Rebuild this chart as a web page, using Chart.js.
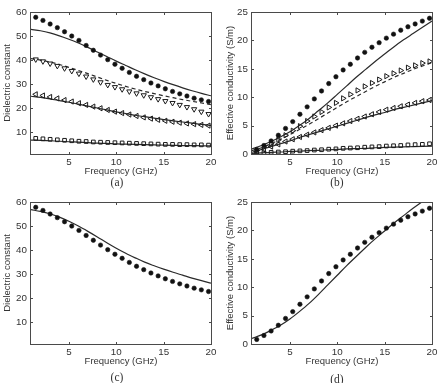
<!DOCTYPE html>
<html><head><meta charset="utf-8">
<script src="https://cdn.jsdelivr.net/npm/chart.js@4/dist/chart.umd.min.js"></script>
<style>
html,body{margin:0;padding:0;background:#fff;}
#wrap{position:relative;width:442px;height:383px;overflow:hidden;background:#fff;}
canvas{position:absolute;}
.cap{position:absolute;font-family:"Liberation Serif","DejaVu Serif",serif;font-size:11.5px;color:#333;transform:translate(-50%,-50%);white-space:nowrap;line-height:1;}
</style></head><body>
<div id="wrap">
<canvas id="ca" width="221" height="190" style="left:0;top:0"></canvas>
<canvas id="cb" width="221" height="190" style="left:221px;top:0"></canvas>
<canvas id="cc" width="221" height="193" style="left:0;top:190px"></canvas>
<canvas id="cd" width="221" height="193" style="left:221px;top:190px"></canvas>
<div class="cap" style="left:117px;top:183px">(a)</div>
<div class="cap" style="left:337px;top:183px">(b)</div>
<div class="cap" style="left:117px;top:378px">(c)</div>
<div class="cap" style="left:337px;top:380px">(d)</div>
</div>
<script>
// ---- data ----
const freq = [1.5, 2.26, 3.02, 3.78, 4.54, 5.3, 6.06, 6.82, 7.58, 8.34, 9.1, 9.86, 10.62, 11.38, 12.14, 12.9, 13.66, 14.42, 15.18, 15.94, 16.7, 17.46, 18.22, 18.98, 19.74];
const modelFreq = [1,2,3,4,5,6,7,8,9,10,11,12,13,14,15,16,17,18,19,20];

const xTicks = [5, 10, 15, 20];
const epsTicks = [10, 20, 30, 40, 50, 60];
const sigTicks = [0, 5, 10, 15, 20, 25];

// (a) dielectric constant, measured
const epsMeas1 = [57.8, 56.5, 55.0, 53.5, 51.8, 50.0, 48.2, 46.1, 44.1, 42.1, 40.2, 38.3, 36.6, 34.9, 33.3, 31.9, 30.5, 29.3, 28.1, 27.0, 26.0, 25.1, 24.2, 23.5, 22.8];
const epsMeas2 = [40.3, 39.5, 38.6, 37.6, 36.6, 35.5, 34.4, 33.2, 32.0, 30.8, 29.7, 28.8, 27.9, 27.0, 26.2, 25.4, 24.6, 23.8, 23.0, 22.2, 21.4, 20.5, 19.6, 18.6, 17.6];
const epsMeas3 = [25.8, 25.3, 24.7, 24.1, 23.4, 22.8, 22.1, 21.4, 20.7, 20.0, 19.3, 18.6, 18.0, 17.4, 16.8, 16.2, 15.7, 15.2, 14.8, 14.4, 14.0, 13.7, 13.4, 13.1, 12.8];
const epsMeas4 = [7.5, 7.3, 7.1, 6.9, 6.7, 6.5, 6.3, 6.2, 6.0, 5.9, 5.8, 5.7, 5.6, 5.5, 5.4, 5.3, 5.2, 5.1, 5.0, 5.0, 4.9, 4.9, 4.8, 4.8, 4.7];
// (a) model curves
const epsModel1 = [52.8, 52.2, 51.3, 50.1, 48.7, 47.1, 45.3, 43.4, 41.5, 39.6, 37.8, 36.0, 34.3, 32.7, 31.2, 29.8, 28.5, 27.3, 26.2, 25.2];
const epsModel2 = [40.6, 40.0, 39.2, 38.2, 37.0, 35.7, 34.4, 33.0, 31.6, 30.3, 29.1, 28.0, 27.0, 26.1, 25.2, 24.4, 23.6, 22.9, 22.2, 21.5];
const epsModel3 = [25.0, 24.5, 23.9, 23.2, 22.5, 21.7, 20.9, 20.1, 19.3, 18.5, 17.8, 17.1, 16.5, 15.9, 15.3, 14.8, 14.3, 13.8, 13.3, 12.9];
const epsModel4 = [6.8, 6.7, 6.5, 6.3, 6.1, 5.9, 5.7, 5.5, 5.4, 5.2, 5.1, 5.0, 4.9, 4.8, 4.7, 4.6, 4.5, 4.5, 4.4, 4.4];
// (c) fit
const epsFit = [56.8, 56.1, 55.1, 53.7, 52.0, 50.0, 47.8, 45.5, 43.1, 40.8, 38.7, 36.8, 35.0, 33.5, 32.1, 30.8, 29.6, 28.4, 27.3, 26.3];

// (b) effective conductivity, measured
const sigMeas1 = [0.8, 1.5, 2.3, 3.3, 4.5, 5.7, 7.0, 8.3, 9.7, 11.1, 12.4, 13.6, 14.8, 15.8, 16.9, 17.9, 18.8, 19.6, 20.4, 21.1, 21.8, 22.4, 22.9, 23.4, 23.9];
const sigMeas2 = [0.6, 1.2, 1.8, 2.5, 3.3, 4.1, 4.9, 5.8, 6.6, 7.4, 8.2, 9.0, 9.8, 10.5, 11.2, 11.9, 12.5, 13.1, 13.7, 14.2, 14.7, 15.2, 15.6, 16.0, 16.3];
const sigMeas3 = [0.4, 0.8, 1.3, 1.7, 2.2, 2.6, 3.0, 3.4, 3.8, 4.2, 4.6, 5.0, 5.4, 5.8, 6.2, 6.6, 7.0, 7.4, 7.8, 8.1, 8.4, 8.7, 9.0, 9.3, 9.5];
const sigMeas4 = [0.15, 0.2, 0.3, 0.35, 0.4, 0.5, 0.55, 0.6, 0.7, 0.75, 0.85, 0.9, 1.0, 1.05, 1.1, 1.2, 1.25, 1.3, 1.4, 1.45, 1.5, 1.6, 1.65, 1.7, 1.8];
// (b) model curves
const sigModel1 = [0.9, 1.5, 2.2, 3.0, 3.9, 5.0, 6.2, 7.6, 9.0, 10.5, 12.0, 13.5, 14.9, 16.3, 17.6, 18.9, 20.1, 21.2, 22.3, 23.4];
const sigModel2 = [0.6, 1.1, 1.8, 2.6, 3.4, 4.3, 5.2, 6.2, 7.2, 8.2, 9.2, 10.1, 11.0, 11.9, 12.7, 13.5, 14.2, 14.9, 15.5, 16.1];
const sigModel3 = [0.3, 0.8, 1.3, 1.8, 2.3, 2.9, 3.4, 3.9, 4.4, 4.9, 5.4, 5.9, 6.4, 6.9, 7.3, 7.8, 8.2, 8.6, 9.0, 9.4];
const sigModel4 = [0.1, 0.2, 0.3, 0.35, 0.45, 0.5, 0.6, 0.65, 0.75, 0.8, 0.9, 0.95, 1.0, 1.1, 1.15, 1.2, 1.25, 1.3, 1.35, 1.4];
// (d) fit
const sigFit = [1.0, 1.6, 2.4, 3.3, 4.4, 5.7, 7.1, 8.7, 10.4, 12.1, 13.8, 15.4, 17.0, 18.5, 19.9, 21.3, 22.6, 23.9, 25.1, 26.3];

// ---- helpers ----
const FONT = '"Liberation Sans", Arial, Helvetica, sans-serif';
const TXT = '#333';
const pts = (xs, ys) => xs.map((x, i) => ({x: x, y: ys[i]}));

function marks(ys, style, rot, r) {
  const filled = style === 'circle';
  return {
    data: pts(freq, ys), showLine: false, pointStyle: style, rotation: rot || 0,
    pointRadius: r, pointHoverRadius: r,
    borderColor: '#1a1a1a', backgroundColor: filled ? '#111' : 'rgba(0,0,0,0)',
    pointBorderWidth: filled ? 0.6 : 1, order: 1
  };
}
function curve(ys, dashed) {
  return {
    data: pts(modelFreq, ys), showLine: true, pointRadius: 0, pointHoverRadius: 0,
    borderColor: '#2a2a2a', borderWidth: 1.2, borderDash: dashed ? [4, 3] : [],
    cubicInterpolationMode: 'monotone', fill: false, order: 2
  };
}

const boxPlugin = {
  id: 'box',
  afterDraw(chart) {
    const {ctx, chartArea: a, scales: {x, y}} = chart;
    const L = a.left - 0.5, R = a.right + 0.5, T = a.top + 0.5, B = a.bottom + 0.5;
    ctx.save();
    ctx.strokeStyle = '#4a4a4a';
    ctx.lineWidth = 1;
    ctx.strokeRect(L, T, R - L, B - T);
    const tl = 2.5;
    ctx.beginPath();
    x.ticks.forEach(t => {
      const p = Math.round(x.getPixelForValue(t.value)) + 0.5;
      ctx.moveTo(p, B); ctx.lineTo(p, B - tl);
      ctx.moveTo(p, T); ctx.lineTo(p, T + tl);
    });
    y.ticks.forEach(t => {
      const p = Math.round(y.getPixelForValue(t.value)) + 0.5;
      ctx.moveTo(L, p); ctx.lineTo(L + tl, p);
      ctx.moveTo(R, p); ctx.lineTo(R - tl, p);
    });
    ctx.stroke();
    ctx.restore();
  }
};

function panel(id, canvasH, yMin, yMax, yTicks, yTitle, yTitlePad, datasets) {
  return new Chart(document.getElementById(id), {
    type: 'scatter',
    data: {datasets: datasets},
    options: {
      responsive: false, animation: false, devicePixelRatio: 1, events: [],
      layout: {padding: {left: 0, right: 10, top: 12, bottom: canvasH - 154 - 23}},
      plugins: {legend: {display: false}, tooltip: {enabled: false}},
      scales: {
        x: {
          type: 'linear', min: 1, max: 20,
          afterBuildTicks: s => { s.ticks = xTicks.map(v => ({value: v})); },
          afterFit: s => { s.height = 23; },
          grid: {display: false, drawTicks: false}, border: {display: false},
          ticks: {autoSkip: false, maxRotation: 0, padding: 2, color: TXT, font: {family: FONT, size: 9.8}},
          title: {display: true, text: 'Frequency (GHz)', color: TXT, padding: 0, font: {family: FONT, size: 9.5}}
        },
        y: {
          type: 'linear', min: yMin, max: yMax,
          afterBuildTicks: s => { s.ticks = yTicks.map(v => ({value: v})); },
          afterFit: s => { s.width = 31; },
          grid: {display: false, drawTicks: false}, border: {display: false},
          ticks: {autoSkip: false, padding: 4, color: TXT, font: {family: FONT, size: 9.8}},
          title: {display: true, text: yTitle, color: TXT, padding: {top: yTitlePad, bottom: 0}, font: {family: FONT, size: 9.5}}
        }
      }
    },
    plugins: [boxPlugin]
  });
}

panel('ca', 190, 1, 60, epsTicks, 'Dielectric constant', 1.3, [
  marks(epsMeas1, 'circle', 0, 2.2),
  marks(epsMeas2, 'triangle', 180, 3),
  marks(epsMeas3, 'triangle', 270, 3),
  marks(epsMeas4, 'rect', 0, 2.6),
  curve(epsModel1, false), curve(epsModel2, true), curve(epsModel3, false), curve(epsModel4, false)
]);
panel('cb', 190, 0, 25, sigTicks, 'Effective conductivity (S/m)', 4, [
  marks(sigMeas1, 'circle', 0, 2.2),
  marks(sigMeas2, 'triangle', 90, 3),
  marks(sigMeas3, 'triangle', 270, 3),
  marks(sigMeas4, 'rect', 0, 2.6),
  curve(sigModel1, false), curve(sigModel2, true), curve(sigModel3, false), curve(sigModel4, false)
]);
panel('cc', 193, 1, 60, epsTicks, 'Dielectric constant', 1.3, [
  marks(epsMeas1, 'circle', 0, 2.2),
  curve(epsFit, false)
]);
panel('cd', 193, 0, 25, sigTicks, 'Effective conductivity (S/m)', 4, [
  marks(sigMeas1, 'circle', 0, 2.2),
  curve(sigFit, false)
]);
</script>
</body></html>
